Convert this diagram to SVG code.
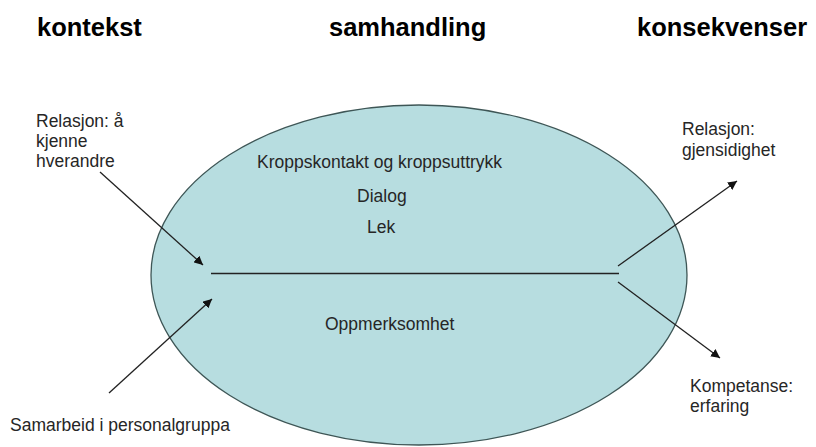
<svg xmlns="http://www.w3.org/2000/svg" width="816" height="447" viewBox="0 0 816 447">
  <style>
    .title { font-family: "Liberation Sans", Arial, sans-serif; font-weight: bold; font-size: 25.5px; fill: #000; }
    .lbl { font-family: "Liberation Sans", Arial, sans-serif; font-size: 17.5px; fill: #262626; }
    .conn { stroke: #222; stroke-width: 1.3; fill: none; }
  </style>
  <defs>
    <marker id="arrow" viewBox="0 0 10 10" refX="10" refY="5" markerWidth="9" markerHeight="9" markerUnits="userSpaceOnUse" orient="auto">
      <path d="M0,0 L10,5 L0,10 z" fill="#111"/>
    </marker>
  </defs>

  <rect width="816" height="447" fill="#fff"/>

  <!-- column headings -->
  <g id="headings">
    <text class="title" x="37" y="36">kontekst</text>
    <text class="title" x="329" y="36">samhandling</text>
    <text class="title" x="637" y="36">konsekvenser</text>
  </g>

  <!-- central interaction ellipse -->
  <g id="samhandling">
    <ellipse cx="419" cy="275" rx="268" ry="170" fill="#b7dde0" stroke="#3e5656" stroke-width="1.3"/>
    <line class="conn" x1="211" y1="273.5" x2="619" y2="273.5"/>
    <text class="lbl" x="257" y="168">Kroppskontakt og kroppsuttrykk</text>
    <text class="lbl" x="357" y="202">Dialog</text>
    <text class="lbl" x="367" y="233">Lek</text>
    <text class="lbl" x="325" y="330">Oppmerksomhet</text>
  </g>

  <g id="relasjon-kjenne">
    <text class="lbl" x="36" y="127">Relasjon: å</text>
    <text class="lbl" x="36" y="147">kjenne</text>
    <text class="lbl" x="36" y="167">hverandre</text>
  </g>

  <g id="samarbeid">
    <text class="lbl" x="10" y="431">Samarbeid i personalgruppa</text>
  </g>

  <g id="relasjon-gjensidighet">
    <text class="lbl" x="682" y="135">Relasjon:</text>
    <text class="lbl" x="682" y="156">gjensidighet</text>
  </g>

  <g id="kompetanse">
    <text class="lbl" x="690" y="392">Kompetanse:</text>
    <text class="lbl" x="690" y="412">erfaring</text>
  </g>

  <!-- connectors -->
  <g id="connectors">
    <line class="conn" x1="100" y1="172" x2="203" y2="265" marker-end="url(#arrow)"/>
    <line class="conn" x1="109" y1="393" x2="212" y2="299" marker-end="url(#arrow)"/>
    <line class="conn" x1="618" y1="266" x2="737" y2="181" marker-end="url(#arrow)"/>
    <line class="conn" x1="618" y1="282" x2="720" y2="358" marker-end="url(#arrow)"/>
  </g>
</svg>
